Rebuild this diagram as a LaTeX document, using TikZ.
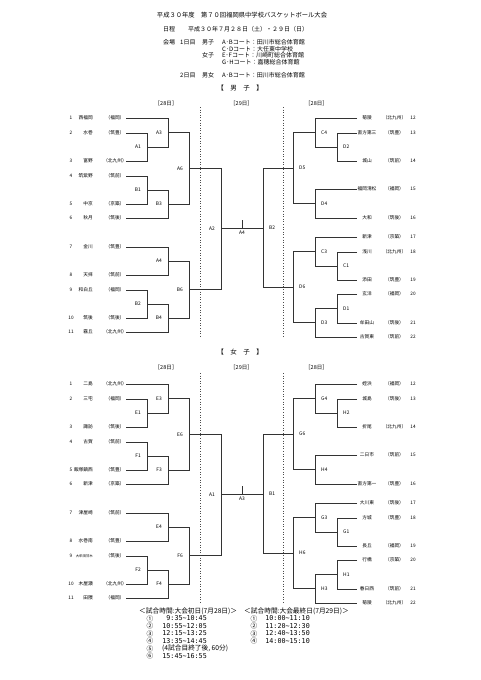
\documentclass[tikz,border=0pt]{standalone}
\usepackage{fontspec}
\newfontfamily\jp{Noto Sans CJK JP}
\newfontfamily\clockfont{DejaVu Sans Mono}
\usetikzlibrary{calc}

\newcommand\jpsize[1]{\jp\fontsize{#1}{#1}\selectfont}

% one game of the bracket: two lines meet in a column, winner point named #4
\newcommand\match[6]{%
  \draw[bline] (#1) -- (#1 -| #3) -- (#2 -| #3) -- (#2);
  \coordinate (#4) at ($(#1 -| #3)!.5!(#2 -| #3)$);
  \node[mlabel, #6] (#4l) at (#4) {#5};
}

\tikzset{
  bline/.style={draw=black!80, line width=0.8pt},
  dotline/.style={draw=black!70, line width=0.6pt, dotted},
  team/.style={inner sep=0pt, font=\jpsize{4.7}},
  seed/.style={inner sep=0pt, font=\jpsize{4.7}},
  mlabel/.style={inner sep=0pt, font=\jpsize{4.9}},
  lft/.style={anchor=east, xshift=-6pt},
  rgt/.style={anchor=west, xshift=6pt},
  head/.style={inner sep=0pt, anchor=west, font=\jpsize{6}},
  ttl/.style={inner sep=0pt, font=\jpsize{6.3}},
  sect/.style={inner sep=0pt, font=\jpsize{6.5}},
  day/.style={inner sep=0pt, font=\jpsize{5.5}},
  tt/.style={inner sep=0pt, anchor=west, font=\jpsize{6.7}},
  ttime/.style={inner sep=0pt, anchor=east, font=\clockfont\fontsize{6.7}{6.7}\selectfont}
}

\begin{document}
\begin{tikzpicture}[x=1pt,y=-1pt]
\useasboundingbox (0,0) rectangle (481,680);
\fill[white] (0,0) rectangle (481,680);

% header
\node[ttl] (title) at (242,15) {平成３０年度　第７０回福岡県中学校バスケットボール大会};
\node[head] (sched) at (163,29) {日程};
\node[head] (dates) at (188,29) {平成３０年７月２８日（土）・２９日（日）};
\node[head] (venue) at (163,42.5) {会場};
\node[head] (day1) at (180,42.5) {1日目};
\node[head] (boys1) at (202,42.5) {男子};
\node[head] (ab1) at (222,42.5) {A･Bコート：田川市総合体育館};
\node[head] (cd1) at (222,49) {C･Dコート：大任東中学校};
\node[head] (girls1) at (202,55.5) {女子};
\node[head] (ef1) at (222,55.5) {E･Fコート：川崎町総合体育館};
\node[head] (gh1) at (222,62) {G･Hコート：嘉穂総合体育館};
\node[head] (day2) at (180,75) {2日目};
\node[head] (both2) at (202,75) {男女};
\node[head] (ab2) at (222,75) {A･Bコート：田川市総合体育館};

% bracket columns
\coordinate (lc1) at (147,0);
\coordinate (lc2) at (168,0);
\coordinate (lc3) at (189,0);
\coordinate (lc4) at (221,0);
\coordinate (rc1) at (337,0);
\coordinate (rc2) at (315,0);
\coordinate (rc3) at (293,0);
\coordinate (rc4) at (263,0);

%%% boys
\node[sect] (msect) at (240,88) {【　男　子　】};
\node[day] (mday1) at (166,103) {［28日］};
\node[day] (mday2) at (241.5,103) {［29日］};
\node[day] (mday3) at (316.5,103) {［28日］};
\draw[dotline] (200,107) -- (200,338);
\draw[dotline] (283,107) -- (283,338);

\foreach \n/\y/\tm/\rg in {1/118/西福岡/福岡, 2/133/水巻/筑豊, 3/161/富野/北九州, 4/176/筑紫野/筑前,
    5/204/中京/京築, 6/218/秋月/筑後, 7/247/金川/筑豊, 8/275/天拝/筑前, 9/290/和白丘/福岡,
    10/318/筑後/筑後, 11/332/霧丘/北九州}{
  \node[seed] (mn\n) at (71,\y) {\n};
  \node[team, anchor=east] (mt\n) at (93,\y) {\tm};
  \node[team] (mr\n) at (115,\y) {（\rg）};
  \coordinate (m\n) at (126,\y);
}
\foreach \n/\y/\tm/\rg in {12/118/菊陵/北九州, 13/133/直方第三/筑豊, 14/161/城山/筑前, 15/189/福岡清松/福岡,
    16/218/大和/筑後, 17/237/新津/京築, 18/252/浅川/北九州, 19/280/添田/筑豊, 20/294/玄洋/福岡,
    21/323/牟田山/筑後, 22/337/古賀東/筑前}{
  \coordinate (m\n) at (357,\y);
  \node[team] (mt\n) at (367,\y) {\tm};
  \node[team] (mr\n) at (394.5,\y) {（\rg）};
  \node[seed] (mn\n) at (413,\y) {\n};
}

\match{m2}{m3}{lc1}{mA1}{A1}{lft}
\match{m1}{mA1}{lc2}{mA3}{A3}{lft}
\match{m4}{m5}{lc1}{mB1}{B1}{lft}
\match{mB1}{m6}{lc2}{mB3}{B3}{lft}
\match{mA3}{mB3}{lc3}{mA6}{A6}{lft}
\match{m7}{m8}{lc2}{mA4}{A4}{lft}
\match{m9}{m10}{lc1}{mB2}{B2}{lft}
\match{mB2}{m11}{lc2}{mB4}{B4}{lft}
\match{mA4}{mB4}{lc3}{mB6}{B6}{lft}
\match{mA6}{mB6}{lc4}{mA2}{A2}{lft}

\match{m13}{m14}{rc1}{mD2}{D2}{rgt}
\match{m12}{mD2}{rc2}{mC4}{C4}{rgt}
\match{m15}{m16}{rc2}{mD4}{D4}{rgt}
\match{mC4}{mD4}{rc3}{mD5}{D5}{rgt}
\match{m18}{m19}{rc1}{mC1}{C1}{rgt}
\match{m17}{mC1}{rc2}{mC3}{C3}{rgt}
\match{m20}{m21}{rc1}{mD1}{D1}{rgt}
\match{mD1}{m22}{rc2}{mD3}{D3}{rgt}
\match{mC3}{mD3}{rc3}{mD6}{D6}{rgt}
\match{mD5}{mD6}{rc4}{mRB2}{B2}{rgt}

\draw[bline] (mA2) -- coordinate (mfin) (mA2 -| mRB2);
\draw[bline] (mfin) -- ++(0,-9);
\node[mlabel, below=1.5pt] (mfinl) at (mfin) {A4};

%%% girls
\node[sect] (wsect) at (240,352) {【　女　子　】};
\node[day] (wday1) at (166,367) {［28日］};
\node[day] (wday2) at (241.5,367) {［29日］};
\node[day] (wday3) at (316.5,367) {［28日］};
\draw[dotline] (200,373) -- (200,604);
\draw[dotline] (283,373) -- (283,604);

\foreach \n/\y/\tm/\rg in {1/384/二島/北九州, 2/399/三宅/福岡, 3/427/諏訪/筑後, 4/442/古賀/筑前,
    5/470/飯塚鎮西/筑豊, 6/484/新津/京築, 7/513/津屋崎/筑前, 8/541/水巻南/筑豊,
    9/556/{\jpsize{3.4}大牟田甘木}/筑後, 10/584/木屋瀬/北九州, 11/598/田隈/福岡}{
  \node[seed] (wn\n) at (71,\y) {\n};
  \node[team, anchor=east] (wt\n) at (93,\y) {\tm};
  \node[team] (wr\n) at (115,\y) {（\rg）};
  \coordinate (w\n) at (126,\y);
}
\foreach \n/\y/\tm/\rg in {12/384/姪浜/福岡, 13/399/城島/筑後, 14/427/折尾/北九州, 15/455/二日市/筑前,
    16/484/直方第一/筑豊, 17/503/大川東/筑後, 18/518/方城/筑豊, 19/546/長丘/福岡, 20/560/行橋/京築,
    21/589/春日西/筑前, 22/603/菊陵/北九州}{
  \coordinate (w\n) at (357,\y);
  \node[team] (wt\n) at (367,\y) {\tm};
  \node[team] (wr\n) at (394.5,\y) {（\rg）};
  \node[seed] (wn\n) at (413,\y) {\n};
}

\match{w2}{w3}{lc1}{wE1}{E1}{lft}
\match{w1}{wE1}{lc2}{wE3}{E3}{lft}
\match{w4}{w5}{lc1}{wF1}{F1}{lft}
\match{wF1}{w6}{lc2}{wF3}{F3}{lft}
\match{wE3}{wF3}{lc3}{wE6}{E6}{lft}
\match{w7}{w8}{lc2}{wE4}{E4}{lft}
\match{w9}{w10}{lc1}{wF2}{F2}{lft}
\match{wF2}{w11}{lc2}{wF4}{F4}{lft}
\match{wE4}{wF4}{lc3}{wF6}{F6}{lft}
\match{wE6}{wF6}{lc4}{wA1}{A1}{lft}

\match{w13}{w14}{rc1}{wH2}{H2}{rgt}
\match{w12}{wH2}{rc2}{wG4}{G4}{rgt}
\match{w15}{w16}{rc2}{wH4}{H4}{rgt}
\match{wG4}{wH4}{rc3}{wG6}{G6}{rgt}
\match{w18}{w19}{rc1}{wG1}{G1}{rgt}
\match{w17}{wG1}{rc2}{wG3}{G3}{rgt}
\match{w20}{w21}{rc1}{wH1}{H1}{rgt}
\match{wH1}{w22}{rc2}{wH3}{H3}{rgt}
\match{wG3}{wH3}{rc3}{wH6}{H6}{rgt}
\match{wG6}{wH6}{rc4}{wB1}{B1}{rgt}

\draw[bline] (wA1) -- coordinate (wfin) (wA1 -| wB1);
\draw[bline] (wfin) -- ++(0,-9);
\node[mlabel, below=1.5pt] (wfinl) at (wfin) {A3};

%%% game times
\node[tt] (t1) at (139,611) {＜試合時間:大会初日(7月28日)＞};
\node[tt] (t2) at (244,611) {＜試合時間:大会最終日(7月29日)＞};
\foreach \k/\c/\a/\b in {1/①/ 9:35/10:45, 2/②/10:55/12:05, 3/③/12:15/13:25, 4/④/13:35/14:45, 6/⑥/15:45/16:55}{
  \node[tt, anchor=center] (c1\k) at (150,611+7.5*\k) {\c};
  \node[ttime] (h1\k) at (207,611+7.5*\k) {\a\textasciitilde\b};
}
\node[tt, anchor=center] (c15) at (150,648.5) {⑤};
\node[tt] (h15) at (162,648.5) {(4試合目終了後, 60分)};
\foreach \k/\c/\a/\b in {1/①/10:00/11:10, 2/②/11:20/12:30, 3/③/12:40/13:50, 4/④/14:00/15:10}{
  \node[tt, anchor=center] (c2\k) at (254,611+7.5*\k) {\c};
  \node[ttime] (h2\k) at (310,611+7.5*\k) {\a\textasciitilde\b};
}
\end{tikzpicture}
\end{document}
